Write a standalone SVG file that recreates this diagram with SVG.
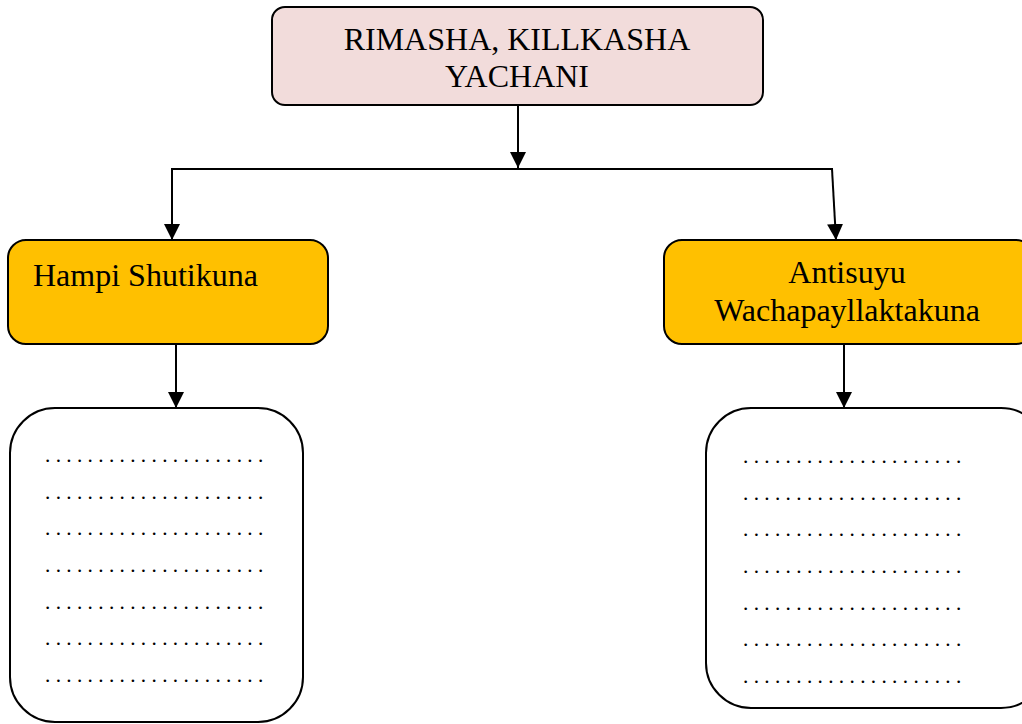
<svg xmlns="http://www.w3.org/2000/svg" width="1022" height="724" viewBox="0 0 1022 724">
<style>
.box{stroke:#000;stroke-width:2}
.t{font-family:"Liberation Serif","Times New Roman",serif;font-size:32px;fill:#000}
.d{font-family:"Liberation Serif","Times New Roman",serif;font-size:21.3px;fill:#000}
.c{fill:none;stroke:#000;stroke-width:2}
</style>
<defs>
<marker id="ah" viewBox="0 0 16 16" refX="16" refY="8" markerWidth="16" markerHeight="16" markerUnits="userSpaceOnUse" orient="auto">
<path d="M0,0 L16,8 L0,16 Z" fill="#000"/>
</marker>
</defs>
<rect width="1022" height="724" fill="#fff"/>
<g id="connectors">
<line class="c" x1="518" y1="105" x2="518" y2="168" marker-end="url(#ah)"/>
<line class="c" x1="171" y1="169" x2="833" y2="169"/>
<line class="c" x1="172" y1="169" x2="172" y2="240" marker-end="url(#ah)"/>
<line class="c" x1="832" y1="169" x2="836" y2="240" marker-end="url(#ah)"/>
<line class="c" x1="176" y1="345" x2="176" y2="408" marker-end="url(#ah)"/>
<line class="c" x1="844" y1="345" x2="844" y2="408" marker-end="url(#ah)"/>
</g>
<g id="top">
<rect class="box" x="272" y="7" width="491" height="98" rx="13" fill="#F2DCDB"/>
<text class="t" x="517" y="50" text-anchor="middle">RIMASHA, KILLKASHA</text>
<text class="t" x="517" y="87" text-anchor="middle">YACHANI</text>
</g>
<g id="hampi">
<rect class="box" x="8" y="240" width="320" height="104" rx="18" fill="#FFC000"/>
<text class="t" x="33" y="286">Hampi Shutikuna</text>
</g>
<g id="antisuyu">
<rect class="box" x="664" y="240" width="370" height="104" rx="18" fill="#FFC000"/>
<text class="t" x="847" y="283" text-anchor="middle">Antisuyu</text>
<text class="t" x="847" y="321" text-anchor="middle">Wachapayllaktakuna</text>
</g>
<g id="hampi-list">
<rect class="box" x="10" y="408" width="293" height="314" rx="45" fill="#fff"/>
<text class="d" x="45" y="462">. . . . . . . . . . . . . . . . . . . . .</text>
<text class="d" x="45" y="499">. . . . . . . . . . . . . . . . . . . . .</text>
<text class="d" x="45" y="535">. . . . . . . . . . . . . . . . . . . . .</text>
<text class="d" x="45" y="572">. . . . . . . . . . . . . . . . . . . . .</text>
<text class="d" x="45" y="609">. . . . . . . . . . . . . . . . . . . . .</text>
<text class="d" x="45" y="645">. . . . . . . . . . . . . . . . . . . . .</text>
<text class="d" x="45" y="682">. . . . . . . . . . . . . . . . . . . . .</text>
</g>
<g id="antisuyu-list">
<rect class="box" x="706" y="408" width="340" height="300" rx="45" fill="#fff"/>
<text class="d" x="743" y="463">. . . . . . . . . . . . . . . . . . . . .</text>
<text class="d" x="743" y="500">. . . . . . . . . . . . . . . . . . . . .</text>
<text class="d" x="743" y="536">. . . . . . . . . . . . . . . . . . . . .</text>
<text class="d" x="743" y="573">. . . . . . . . . . . . . . . . . . . . .</text>
<text class="d" x="743" y="610">. . . . . . . . . . . . . . . . . . . . .</text>
<text class="d" x="743" y="646">. . . . . . . . . . . . . . . . . . . . .</text>
<text class="d" x="743" y="683">. . . . . . . . . . . . . . . . . . . . .</text>
</g>
</svg>
